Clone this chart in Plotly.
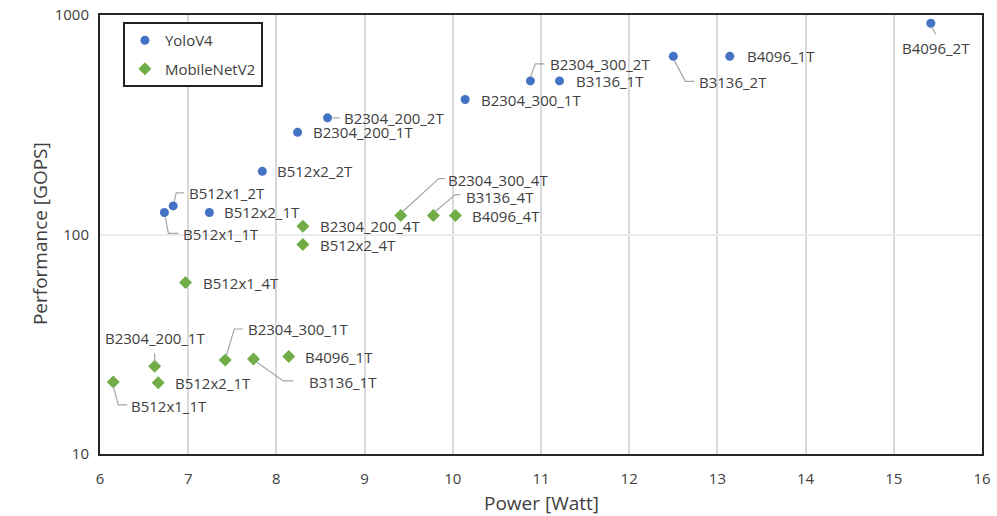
import math
import plotly.graph_objects as go

# ---------------- data ----------------
yolo_names = ["B512x1_1T", "B512x1_2T", "B512x2_1T", "B512x2_2T", "B2304_200_1T",
              "B2304_200_2T", "B2304_300_1T", "B2304_300_2T", "B3136_1T", "B3136_2T",
              "B4096_1T", "B4096_2T"]
yolo_power = [6.73, 6.83, 7.24, 7.84, 8.24, 8.58, 10.14, 10.88, 11.21, 12.50, 13.14, 15.42]
yolo_gops = [126, 135, 126, 194, 292, 340, 412, 501, 501, 648, 648, 917]

mnet_names = ["B512x1_1T", "B2304_200_1T", "B512x2_1T", "B512x1_4T", "B2304_300_1T",
              "B3136_1T", "B4096_1T", "B512x2_4T", "B2304_200_4T", "B2304_300_4T",
              "B3136_4T", "B4096_4T"]
mnet_power = [6.15, 6.62, 6.66, 6.97, 7.42, 7.74, 8.14, 8.30, 8.30, 9.41, 9.78, 10.03]
mnet_gops = [21.3, 25.1, 21.1, 60.4, 26.8, 27.1, 27.8, 90, 109, 122, 122, 122]

x_ticks = list(range(6, 17))
y_ticks = [10, 100, 1000]
y_tick_labels = ["10", "100", "1000"]

# ------------- label placement (pixel offsets: dx right, dy down) -------------
# (dx, dy, anchor, leader path points relative to marker or None)
yolo_lbl = {
    "B512x1_1T": (17, 22, "left", [(1, 5), (4, 21), (14, 21)]),
    "B512x1_2T": (14, -13, "left", [(1, -4), (3, -13), (11, -13)]),
    "B512x2_1T": (13, 0, "left", None),
    "B512x2_2T": (13, 0, "left", None),
    "B2304_200_1T": (13, 0, "left", None),
    "B2304_200_2T": (14, 0, "left", [(5, 0), (12, 0)]),
    "B2304_300_1T": (14, 0, "left", None),
    "B2304_300_2T": (18, -17, "left", [(0, -4), (5, -17), (14, -17)]),
    "B3136_1T": (14, 0, "left", None),
    "B3136_2T": (24, 26, "left", [(1, 4), (12, 25), (21, 25)]),
    "B4096_1T": (15, 0, "left", None),
    "B4096_2T": (5, 25, "center", [(1, 4), (5, 11)]),
}
mnet_lbl = {
    "B512x1_1T": (16, 24, "left", [(0, 4), (5, 23), (14, 23)]),
    "B2304_200_1T": (0, -28, "center", [(0, -4), (0, -13)]),
    "B512x2_1T": (15, 0, "left", None),
    "B512x1_4T": (15, 0, "left", None),
    "B2304_300_1T": (21, -31, "left", [(1, -4), (9, -31), (18, -31)]),
    "B3136_1T": (54, 23, "left", [(3, 3), (30, 22), (40, 22)]),
    "B4096_1T": (14, 0, "left", None),
    "B512x2_4T": (15, 0, "left", None),
    "B2304_200_4T": (15, 0, "left", None),
    "B2304_300_4T": (45, -36, "left", [(2, -4), (38, -37), (44, -37)]),
    "B3136_4T": (31, -19, "left", [(2, -4), (22, -21), (27, -21)]),
    "B4096_4T": (15, 0, "left", None),
}

BLUE = "#4472C4"
GREEN = "#70AD47"
TXT = "#404040"
FONT = "Open Sans"

fig = go.Figure()
fig.add_trace(go.Scatter(
    x=yolo_power, y=yolo_gops, mode="markers", name="YoloV4", legendgroup="a",
    marker=dict(symbol="circle", size=9, color=BLUE)))
fig.add_trace(go.Scatter(
    x=mnet_power, y=mnet_gops, mode="markers", name="MobileNetV2", legendgroup="b",
    marker=dict(symbol="diamond", size=10, color=GREEN)))

annotations = []
shapes = []
for names, xs, ys, lbl in [(yolo_names, yolo_power, yolo_gops, yolo_lbl),
                           (mnet_names, mnet_power, mnet_gops, mnet_lbl)]:
    for n, xv, yv in zip(names, xs, ys):
        dx, dy, anc, path = lbl[n]
        annotations.append(dict(
            x=xv, y=math.log10(yv), xref="x", yref="y", text=n, showarrow=False,
            xanchor=anc, yanchor="middle", xshift=dx, yshift=-dy,
            font=dict(family=FONT, size=15, color=TXT)))
        if path:
            d = "M " + " L ".join(f"{px},{-py}" for px, py in path)
            shapes.append(dict(
                type="path", xref="x", yref="y", xsizemode="pixel", ysizemode="pixel",
                xanchor=xv, yanchor=yv, path=d,
                line=dict(color="#A6A6A6", width=1.2)))

# axis titles
annotations.append(dict(text="Power [Watt]", xref="paper", yref="paper", x=0.5, y=-0.1116,
                        xanchor="center", yanchor="middle", showarrow=False,
                        font=dict(family=FONT, size=19, color=TXT)))
annotations.append(dict(text="Performance [GOPS]", xref="paper", yref="paper", x=-0.068, y=0.501,
                        xanchor="center", yanchor="middle", showarrow=False, textangle=-90,
                        font=dict(family=FONT, size=19, color=TXT)))

fig.update_layout(
    width=997, height=516,
    margin=dict(l=100, r=15, t=15, b=62),
    paper_bgcolor="white", plot_bgcolor="white",
    font=dict(family=FONT, size=15, color=TXT),
    annotations=annotations, shapes=shapes,
    showlegend=True,
    legend=dict(x=0.026, y=0.984, xanchor="left", yanchor="top",
                bgcolor="white", bordercolor="#222222", borderwidth=2,
                tracegroupgap=6, itemwidth=30,
                font=dict(family=FONT, size=15, color=TXT)),
    xaxis=dict(range=[6, 16], tickvals=x_ticks, ticktext=[str(t) for t in x_ticks],
               showgrid=True, gridcolor="#D9D9D9", gridwidth=1.5, zeroline=False,
               showline=True, linecolor="#262626", linewidth=2, mirror=True,
               ticks="", ticklabelstandoff=10, automargin=False,
               tickfont=dict(size=15, color=TXT)),
    yaxis=dict(type="log", range=[1, 3], tickvals=y_ticks, ticktext=y_tick_labels,
               showgrid=True, gridcolor="#EBEBEB", gridwidth=1.5, zeroline=False,
               showline=True, linecolor="#262626", linewidth=2, mirror=True,
               ticks="", ticklabelstandoff=6, automargin=False,
               tickfont=dict(size=15, color=TXT)),
)

fig.write_html("out.html",
               config={"displayModeBar": False},
               post_script="document.body.style.margin='0';document.body.style.padding='0';")
